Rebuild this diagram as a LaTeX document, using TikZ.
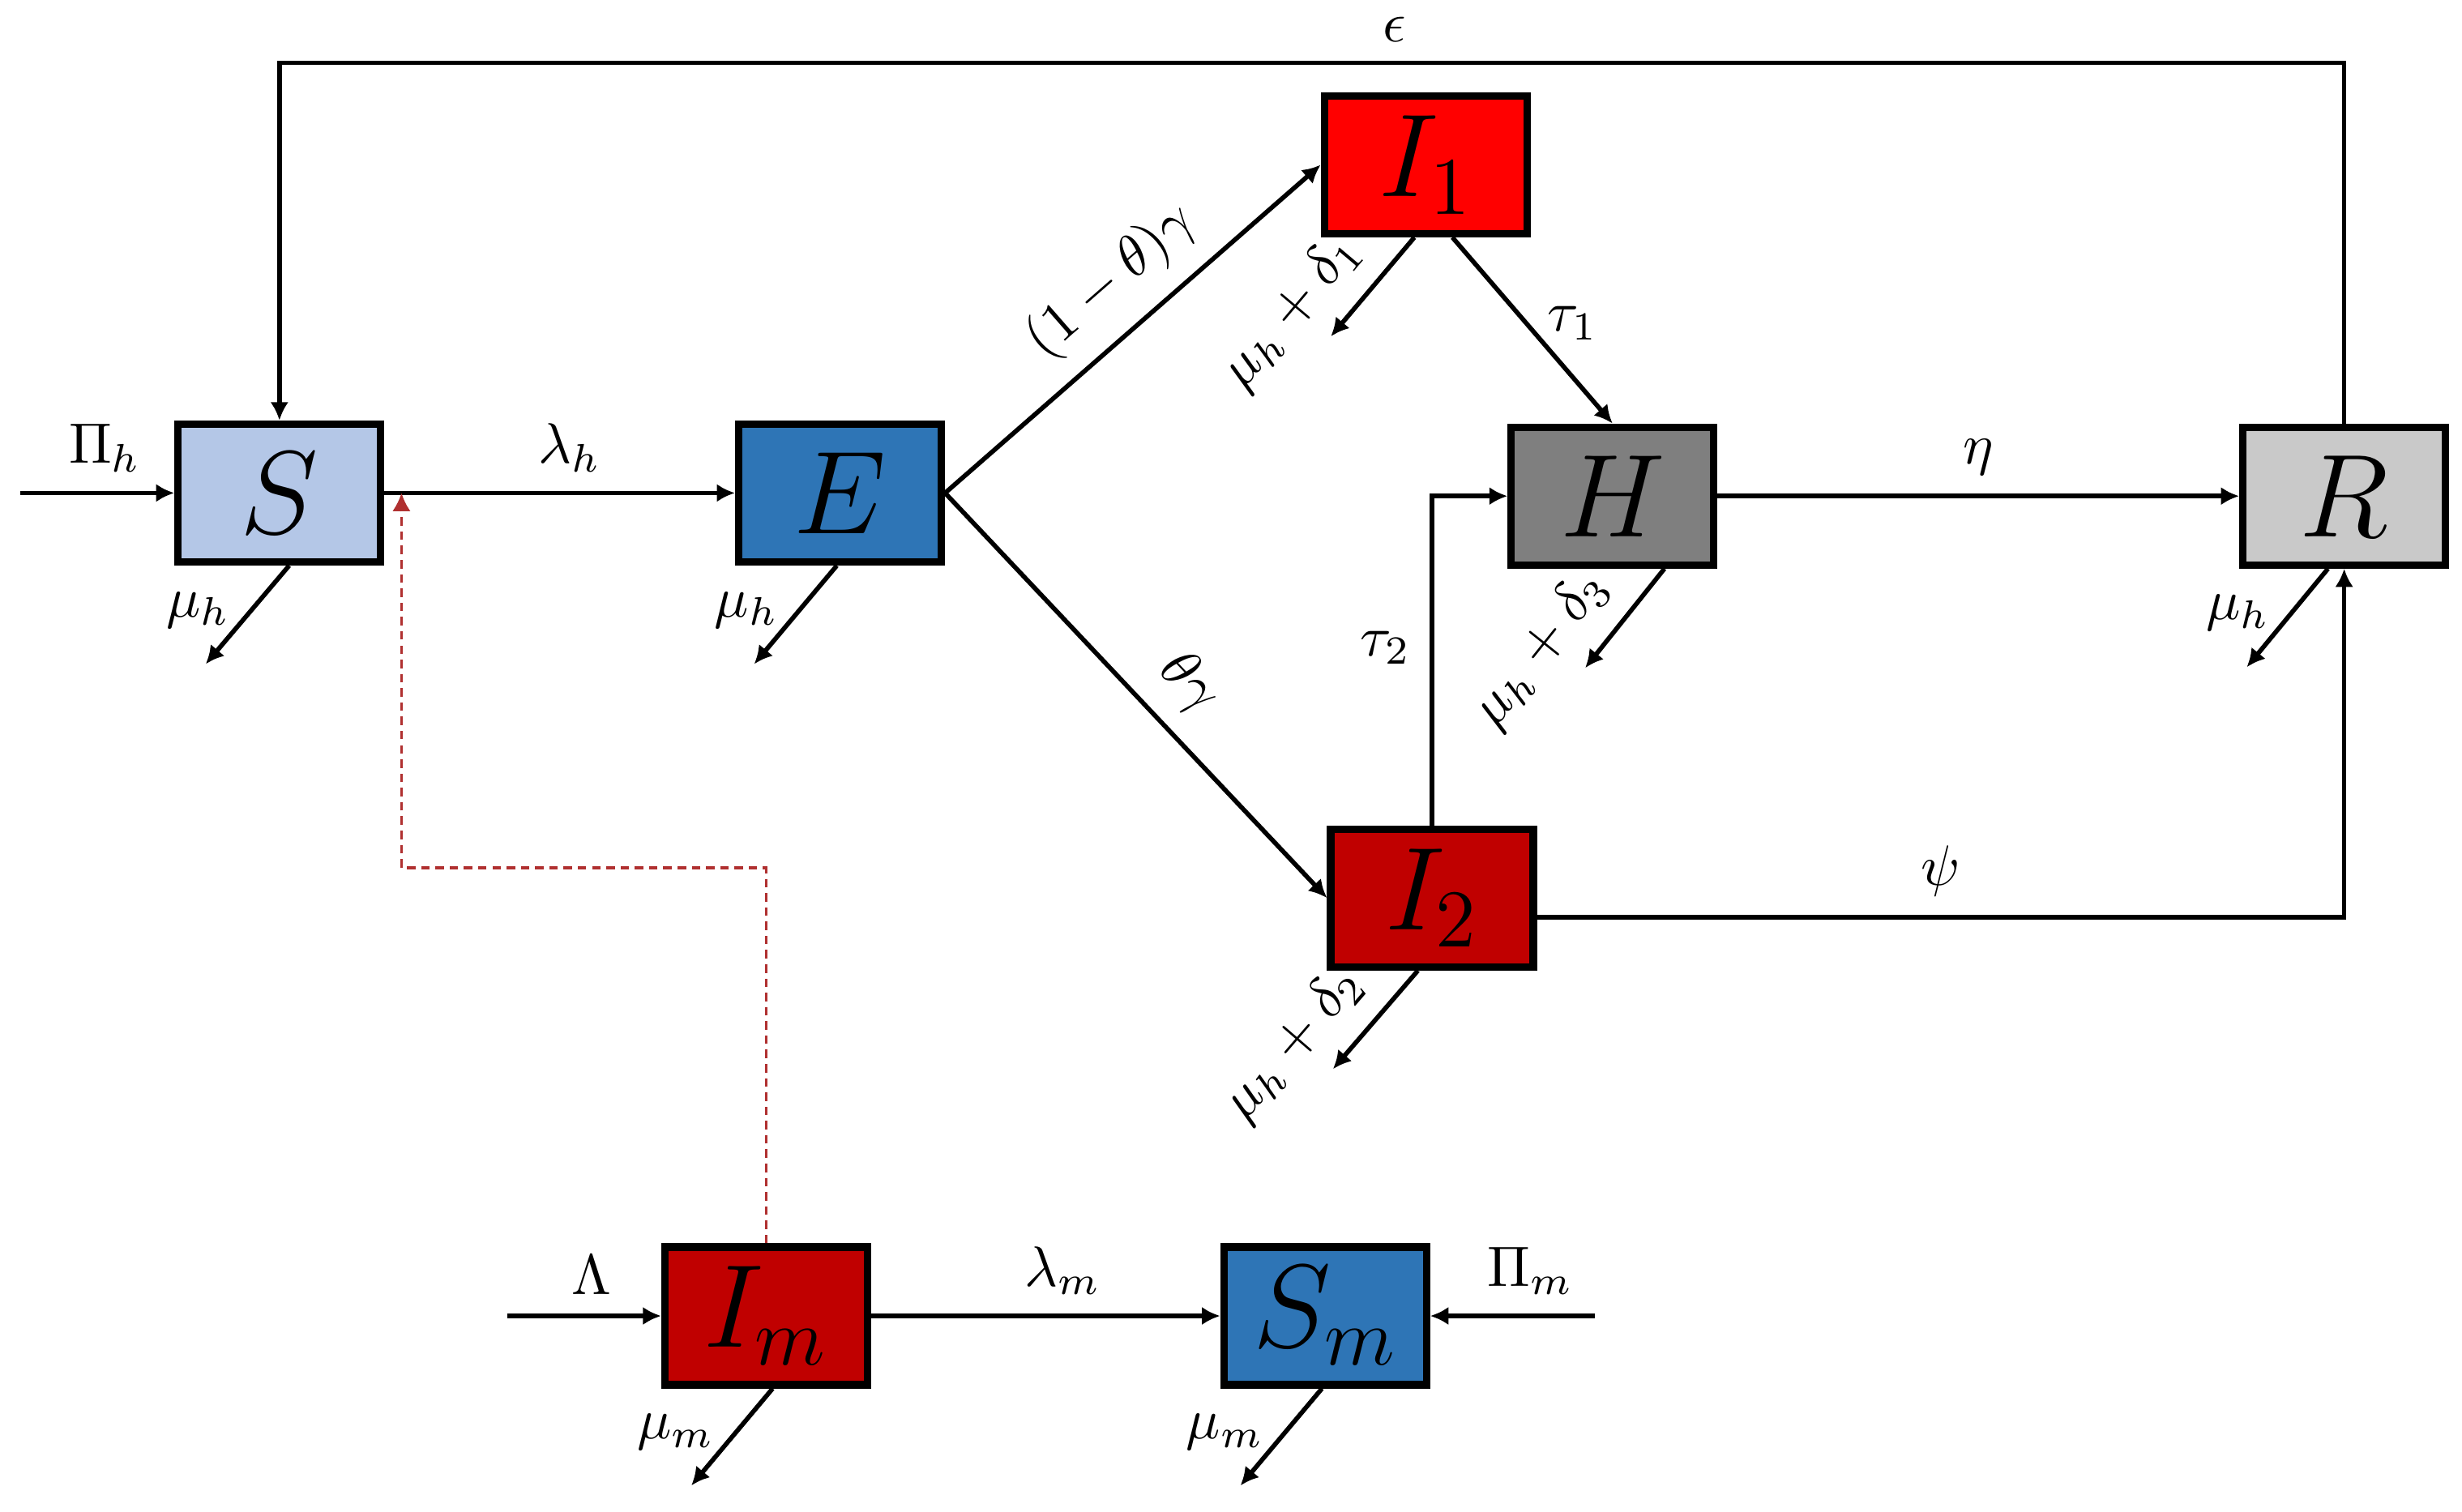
\documentclass[tikz,border=0pt]{standalone}
\usepackage{amsmath}
\usetikzlibrary{arrows.meta}
\definecolor{lightblue}{HTML}{B4C7E7}
\definecolor{midblue}{HTML}{2E75B6}
\definecolor{brightred}{HTML}{FF0000}
\definecolor{darkred}{HTML}{C00000}
\definecolor{midgray}{HTML}{7F7F7F}
\definecolor{lightgray}{HTML}{C9C9C9}
\definecolor{linkred}{HTML}{B03030}
\begin{document}
\begin{tikzpicture}[
    box/.style={draw, line width=1.3pt, minimum width=1.25cm, minimum height=0.85cm,
        inner sep=0pt, font=\fontsize{22}{26}\selectfont},
    flow/.style={-{Latex[length=3.2pt,width=3.2pt]}, line width=0.8pt},
    link/.style={-{Latex[length=3.2pt,width=3.2pt]}, draw=linkred, line width=0.45pt,
        dash pattern=on 1.5pt off 1pt}]
    \useasboundingbox (0,0) rectangle (15.19,-9.325);
    \node[box, fill=lightblue] (S)  at (1.724,-3.042) {$S$};
    \node[box, fill=midblue]   (E)  at (5.183,-3.042) {$E$};
    \node[box, fill=brightred] (I1) at (8.796,-1.017) {$I_1$};
    \node[box, fill=midgray]   (H)  at (9.949,-3.061) {$H$};
    \node[box, fill=lightgray] (R)  at (14.463,-3.061) {$R$};
    \node[box, fill=darkred]   (I2) at (8.835,-5.541) {$I_2$};
    \node[box, fill=darkred]   (Im) at (4.727,-8.120) {$I_m$};
    \node[box, fill=midblue]   (Sm) at (8.176,-8.120) {$S_m$};

    \coordinate (PiH)  at (0.126,-3.042);
    \coordinate (Lam)  at (3.129,-8.120);
    \coordinate (PiM)  at (9.842,-8.120);
    \coordinate (Top)  at (0,-0.387);
    \coordinate (Bend) at (2.477,-5.355);
    \coordinate (Hit)  at (2.477,-3.042);
    \coordinate (muS)  at (1.269,-4.098);
    \coordinate (muE)  at (4.653,-4.098);
    \coordinate (muI1) at (8.211,-2.076);
    \coordinate (muH)  at (9.780,-4.122);
    \coordinate (muR)  at (13.862,-4.117);
    \coordinate (muI2) at (8.224,-6.597);
    \coordinate (muIm) at (4.265,-9.167);
    \coordinate (muSm) at (7.653,-9.167);

    \draw[flow] (PiH) -- node[pos=0.55, above] {$\Pi_h$} (S);
    \draw[flow] (S) -- node[pos=0.53, above] {$\lambda_h$} (E);
    \draw[flow] (E.east) -- node[pos=0.53, above, sloped] {$(1-\theta)\gamma$} (I1.west);
    \draw[flow] (E.east) -- node[pos=0.55, above, sloped] {$\theta\gamma$} (I2.west);
    \draw[flow] ([xshift=0.165cm]I1.south) -- node[pos=0.46, right] {$\tau_1$} (H.north);
    \draw[flow] (I2.north) |- node[pos=0.27, left] {$\tau_2$} (H.west);
    \draw[flow] (H) -- node[above] {$\eta$} (R);
    \draw[flow] ([yshift=-0.12cm]I2.east) -| node[pos=0.25, above] {$\psi$} (R.south);
    \draw[flow] (R.north) |- node[pos=0.73, above] {$\epsilon$} (S.north |- Top) -- (S.north);

    \draw[flow] ([xshift=0.06cm]S.south) -- node[pos=0.45, left] {$\mu_h$} (muS);
    \draw[flow] ([xshift=-0.02cm]E.south) -- node[pos=0.45, left] {$\mu_h$} (muE);
    \draw[flow] ([xshift=-0.07cm]I1.south) -- node[pos=1.05, above, sloped] {$\mu_h+\delta_1$} (muI1);
    \draw[flow] ([xshift=0.32cm]H.south) -- node[pos=1.1, above, sloped] {$\mu_h+\delta_3$} (muH);
    \draw[flow] ([xshift=-0.10cm]R.south) -- node[pos=0.45, left] {$\mu_h$} (muR);
    \draw[flow] ([xshift=-0.087cm]I2.south) -- node[pos=1.05, above, sloped] {$\mu_h+\delta_2$} (muI2);

    \draw[flow] (Lam) -- node[pos=0.55, above] {$\Lambda$} (Im);
    \draw[flow] (Im) -- node[pos=0.55, above] {$\lambda_m$} (Sm);
    \draw[flow] (PiM) -- node[pos=0.39, above] {$\Pi_m$} (Sm);
    \draw[flow] ([xshift=0.04cm]Im.south) -- node[pos=0.45, left] {$\mu_m$} (muIm);
    \draw[flow] ([xshift=-0.02cm]Sm.south) -- node[pos=0.45, left] {$\mu_m$} (muSm);

    \draw[link] (Im.north) |- (Bend) -- (Hit);
\end{tikzpicture}
\end{document}
